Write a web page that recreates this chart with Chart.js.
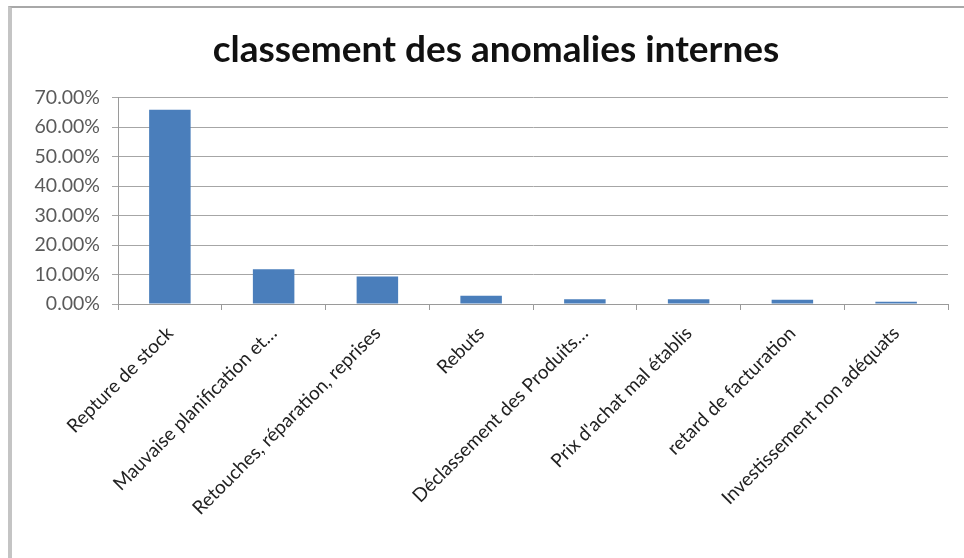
<!DOCTYPE html>
<html>
<head>
<meta charset="utf-8">
<script src="https://cdn.jsdelivr.net/npm/chart.js@4.4.1/dist/chart.umd.min.js"></script>
<style>
  html, body { margin: 0; padding: 0; background: #fff; }
  #wrap { position: relative; width: 964px; height: 558px; overflow: hidden; }
  #frame {
    position: absolute; left: 8px; top: 6px; right: -4px; bottom: -4px;
    border-left: 4px solid #c4c4c4; border-top: 2px solid #a8a8a8;
  }
  #chart { position: absolute; left: 0; top: 0; }
</style>
</head>
<body>
<div id="wrap">
  <div id="frame"></div>
  <canvas id="chart" width="964" height="558"></canvas>
</div>
<script>
const categories = [
  "Repture de stock",
  "Mauvaise planification et…",
  "Retouches, réparation, reprises",
  "Rebuts",
  "Déclassement des Produits…",
  "Prix d'achat mal établis",
  "retard de facturation",
  "Investissement non adéquats"
];
const shares = [0.659, 0.118, 0.093, 0.028, 0.016, 0.016, 0.014, 0.008];
const yTicks = [0, 0.1, 0.2, 0.3, 0.4, 0.5, 0.6, 0.7];

const font = "Lato, 'Open Sans', sans-serif";

// nudge the title box so the heading sits a little right of the canvas centre
const titleShift = {
  id: "titleShift",
  afterLayout(chart) {
    if (chart.titleBlock) chart.titleBlock.left += 30;
  }
};

new Chart(document.getElementById("chart"), {
  type: "bar",
  data: {
    labels: categories,
    datasets: [{
      data: shares,
      backgroundColor: "#4a7ebb",
      borderWidth: 0,
      categoryPercentage: 0.8,
      barPercentage: 0.5
    }]
  },
  plugins: [titleShift],
  options: {
    responsive: false,
    animation: false,
    layout: { padding: { left: 14, right: 16, top: 0, bottom: 0 } },
    plugins: {
      legend: { display: false },
      tooltip: { enabled: false },
      title: {
        display: true,
        text: "classement des anomalies internes",
        color: "#111",
        font: { family: font, size: 37, weight: "bold", lineHeight: 1.1 },
        padding: { top: 30, bottom: 27 }
      }
    },
    scales: {
      x: {
        offset: true,
        grid: {
          offset: true,
          drawOnChartArea: false,
          color: "#9a9a9a",
          tickLength: 6
        },
        border: { color: "#9a9a9a" },
        ticks: {
          minRotation: 45,
          maxRotation: 45,
          autoSkip: false,
          color: "#222",
          font: { family: font, size: 19 },
          padding: 12
        },
        afterFit: (scale) => { scale.height = 254; }
      },
      y: {
        min: 0,
        max: 0.7,
        afterBuildTicks: (scale) => { scale.ticks = yTicks.map(v => ({ value: v })); },
        grid: { color: "#a6a6a6", tickLength: 6 },
        border: { color: "#9a9a9a" },
        ticks: {
          color: "#5a5a5a",
          font: { family: font, size: 19.5 },
          padding: 12,
          callback: (v) => (v * 100).toFixed(2) + "%"
        },
        afterFit: (scale) => { scale.width = 104; }
      }
    }
  }
});
</script>
</body>
</html>
